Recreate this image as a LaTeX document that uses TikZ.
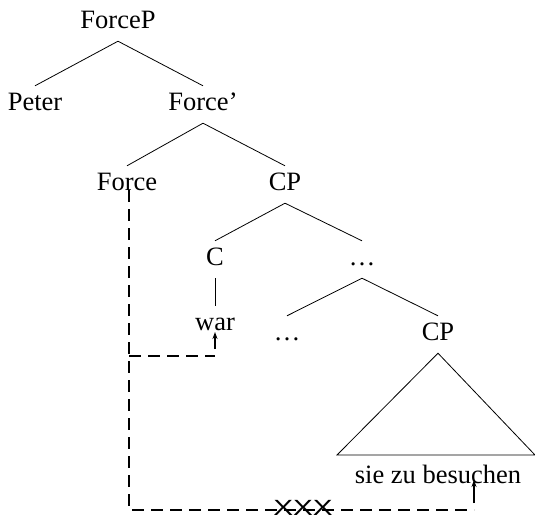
\documentclass[tikz,border=0pt]{standalone}
\usepackage{fontspec}
\setmainfont{Liberation Serif}
\newfontfamily\crossfont{Liberation Sans}
\usetikzlibrary{arrows.meta}

\tikzset{
  cat/.style={anchor=base, inner sep=7pt, text height=17pt, text depth=6pt},
  branch/.style={line width=0.8pt},
  move/.style={line width=1.6pt, dash pattern=on 12pt off 7pt},
  trace/.style={line width=1.2pt, -{Stealth[length=7pt,width=5pt]}}
}

\begin{document}
\begin{tikzpicture}[x=1pt, y=-1pt, font=\fontsize{26.5}{30}\selectfont]
\useasboundingbox (0,0) rectangle (535,520);

% tree
\node[cat](forcep) at (118,28) {ForceP};
\node[cat](peter) at (35,110) {Peter};
\node[cat](forcebar) at (203,110) {Force'};
\node[cat](force) at (127,190) {Force};
\node[cat](cp) at (285,190) {CP};
\node[cat](c) at (215,265) {C};
\node[cat](dotsa) at (362,265) {\dots};
\node[cat](war) at (215,330) {war};
\node[cat](dotsb) at (287,340) {\dots};
\node[cat](cpb) at (438,340) {CP};

\draw[branch] (forcep.south) -- (peter.north);
\draw[branch] (forcep.south) -- (forcebar.north);
\draw[branch] (forcebar.south) -- (force.north);
\draw[branch] (forcebar.south) -- (cp.north);
\draw[branch] (cp.south) -- (c.north);
\draw[branch] (cp.south) -- (dotsa.north);
\draw[branch] (c.south) -- (war.north);
\draw[branch] (dotsa.south) -- (dotsb.north);
\draw[branch] (dotsa.south) -- (cpb.north);

% triangle over the infinitive
\coordinate (tl) at (337,455);
\coordinate (tr) at (535,455);
\draw[branch] (tl) -- (cpb.south) -- (tr) -- cycle;
\node[anchor=base](sie) at (438,483) {sie zu besuchen};

% movement paths
\coordinate (turn) at (129,356);
\coordinate (bottom) at (129,510);
\coordinate (warfoot) at (215,356);
\coordinate (siefoot) at (474,510);

\draw[move] (force.base -| turn) -- (bottom) -- (siefoot);
\draw[move] (turn) -- (warfoot);
\draw[trace] ([yshift=7pt]warfoot) -- ([yshift=-2pt]warfoot |- war.base);
\draw[trace] ([yshift=7pt]siefoot) -- ([yshift=3pt]siefoot |- sie.base);

\node[inner sep=0pt, xscale=1.35, font=\crossfont\fontsize{22}{24}\selectfont](xxx) at (303,508) {XXX};

\end{tikzpicture}
\end{document}
